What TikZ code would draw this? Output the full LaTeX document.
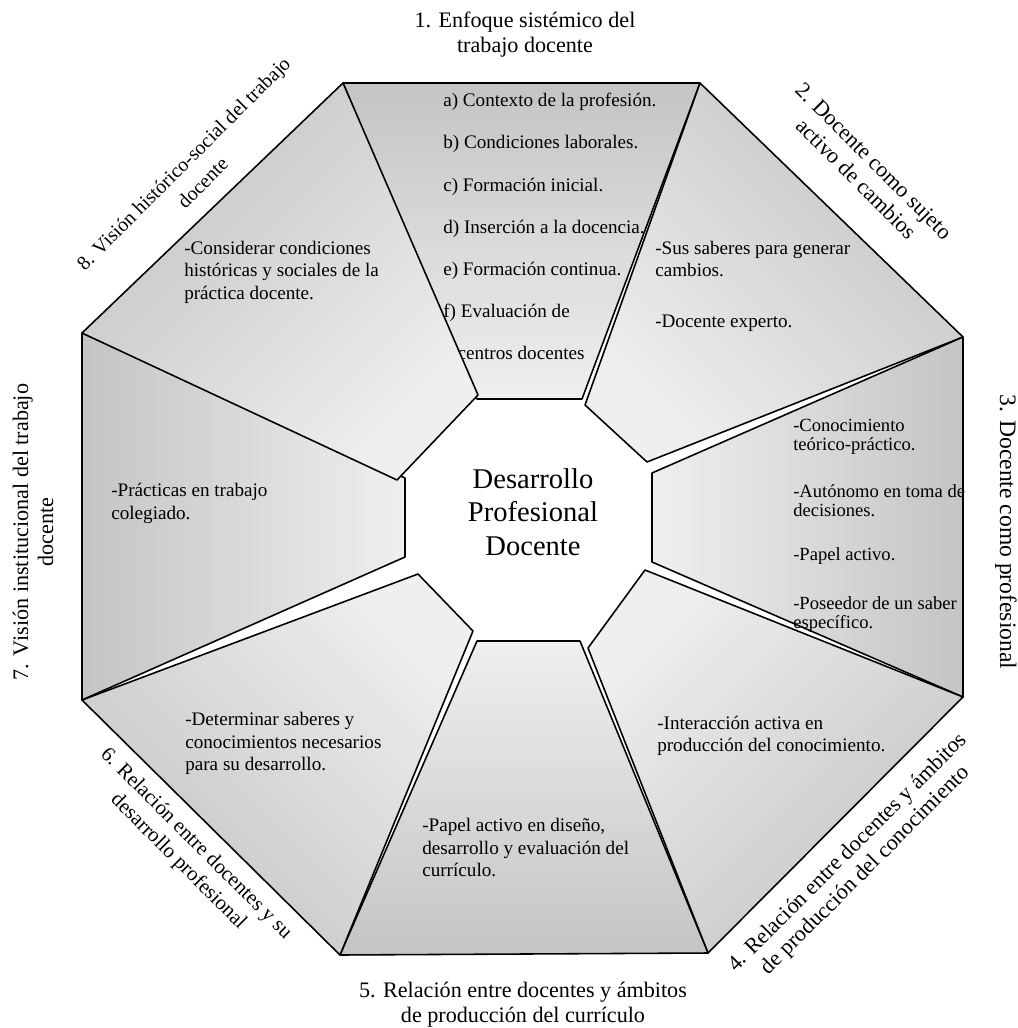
\documentclass[tikz,border=0pt]{standalone}
\usepackage{fontspec}
\setmainfont{Liberation Serif}
\usepackage{tikz}
\usetikzlibrary{calc}

\definecolor{segdark}{HTML}{C4C4C4}
\definecolor{seglight}{HTML}{EFEFEF}

\begin{document}
\begin{tikzpicture}[x=0.7pt, y=-0.7pt,
    seg/.style={draw=black, line width=1.1pt, line join=round, top color=segdark, bottom color=seglight},
    body/.style={anchor=west, align=left, inner sep=0pt, font=\fontsize{13.4}{15.7}\selectfont},
    title/.style={align=center, inner sep=0pt, font=\fontsize{15.5}{17.5}\selectfont}]
    \useasboundingbox (0,0) rectangle (1017,1028);

    \coordinate (P1) at (343,83);
    \coordinate (P2) at (700,83);
    \coordinate (P3) at (963,337);
    \coordinate (P4) at (963,697);
    \coordinate (P5) at (708,953);
    \coordinate (P6) at (340,955);
    \coordinate (P7) at (82,700);
    \coordinate (P8) at (82,333);

    % segment 1
    \draw[seg, shading angle=0] (P1) -- (P2) -- (582,399) -- (477,399) -- cycle;
    \node[body, font=\fontsize{13.4}{29.5}\selectfont] (s1) at (443,226.5)
        {a) Contexto de la profesión.\\ b) Condiciones laborales.\\ c) Formación inicial.\\
         d) Inserción a la docencia.\\ e) Formación continua.\\ f) Evaluación de\\ \hspace*{10pt}centros docentes};

    % segment 2
    \draw[seg, shading angle=-45] (P2) -- (P3) -- (647,462) -- (585,405) -- cycle;
    \node[body] (s2) at (655,286.5) {-Sus saberes para generar\\ cambios.\\[20pt] -Docente experto.};

    % segment 3
    \draw[seg, shading angle=-90] (P3) -- (P4) -- (652,562) -- (652,473) -- cycle;
    \node[body, font=\fontsize{13}{13.3}\selectfont] (s3) at (793,525.5)
        {-Conocimiento\\ teórico-práctico.\\[19.5pt] -Autónomo en toma de\\ decisiones.\\[17.5pt]
         -Papel activo.\\[21pt] -Poseedor de un saber\\ específico.};

    % segment 4
    \draw[seg, shading angle=-135] (P4) -- (P5) -- (588,648) -- (645,570) -- cycle;
    \node[body] (s4) at (657,736) {-Interacción activa en\\ producción del conocimiento.};

    % segment 5
    \draw[seg, shading angle=180] (P5) -- (P6) -- (477,641) -- (580,641) -- cycle;
    \node[body] (s5) at (422,847.5) {-Papel activo en diseño,\\ desarrollo y evaluación del\\ currículo.};

    % segment 6
    \draw[seg, shading angle=135] (P6) -- (P7) -- (418,574) -- (473,631) -- cycle;
    \node[body] (s6) at (185,743.5) {-Determinar saberes y\\ conocimientos necesarios\\ para su desarrollo.};

    % segment 7
    \draw[seg, shading angle=90] (P7) -- (P8) -- (405,478) -- (405,557) -- cycle;
    \node[body] (s7) at (111,503.5) {-Prácticas en trabajo\\ colegiado.};

    % segment 8
    \draw[seg, shading angle=45] (P8) -- (P1) -- (478,395) -- (397,480) -- cycle;
    \node[body] (s8) at (184,272) {-Considerar condiciones\\ históricas y sociales de la\\ práctica docente.};

    \node[align=center, inner sep=0pt, font=\fontsize{20}{23.5}\selectfont] (centre) at (533,512)
        {Desarrollo\\ Profesional\\ Docente};

    \node[title] (t1) at (525,34.5) {1. Enfoque sistémico del\\ trabajo docente};
    \node[title, rotate=-45] (t2) at (865,170) {2. Docente como sujeto\\ activo de cambios};
    \node[title, rotate=-90, font=\fontsize{16.5}{18}\selectfont] (t3) at (1006,532) {3. Docente como profesional};
    \node[title, rotate=45] (t4) at (857,862) {4. Relación entre docentes y ámbitos\\ de producción del conocimiento};
    \node[title] (t5) at (523,1004.5) {5. Relación entre docentes y ámbitos\\ de producción del currículo};
    \node[title, rotate=-45, font=\fontsize{14.6}{17.5}\selectfont] (t6) at (187,853) {6. Relación entre docentes y su\\ desarrollo profesional};
    \node[title, rotate=90] (t7) at (33,532) {7. Visión institucional del trabajo\\ docente};
    \node[title, rotate=45, font=\fontsize{14}{19}\selectfont] (t8) at (193,173) {8. Visión histórico-social del trabajo\\ docente};
\end{tikzpicture}
\end{document}
